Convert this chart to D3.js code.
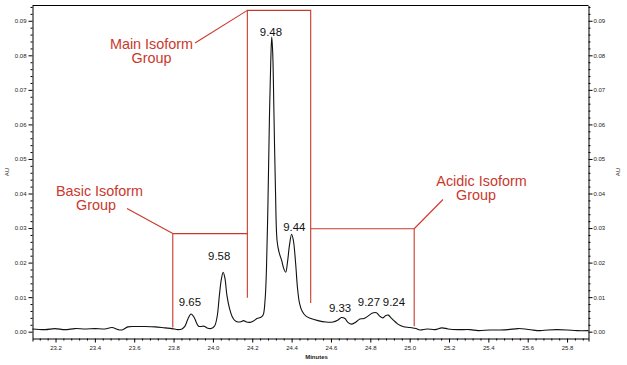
<!DOCTYPE html>
<html><head><meta charset="utf-8">
<script src="https://cdn.jsdelivr.net/npm/d3@7"></script>
<style>
body{margin:0;background:#fff}
svg{display:block}
text{font-family:"Liberation Sans",Arial,Helvetica,sans-serif}
</style>
</head><body>
<svg id="chart" width="627" height="365"></svg>
<script>
// ---- data (minutes, AU) ----
const time = [23.083,23.147,23.197,23.248,23.299,23.350,23.401,23.451,23.487,23.518,23.538,23.568,23.604,23.655,23.706,23.756,23.792,23.822,23.843,23.858,23.873,23.889,23.904,23.917,23.927,23.939,23.955,23.970,23.990,24.008,24.021,24.033,24.043,24.052,24.061,24.071,24.084,24.097,24.112,24.127,24.143,24.155,24.171,24.188,24.206,24.224,24.242,24.255,24.265,24.272,24.280,24.287,24.294,24.299,24.304,24.310,24.318,24.326,24.336,24.349,24.361,24.370,24.379,24.389,24.400,24.409,24.420,24.430,24.440,24.453,24.473,24.498,24.534,24.575,24.610,24.636,24.653,24.671,24.686,24.706,24.727,24.747,24.767,24.788,24.811,24.831,24.848,24.864,24.879,24.892,24.904,24.920,24.940,24.966,25.001,25.032,25.052,25.088,25.129,25.164,25.195,25.246,25.307,25.348,25.408,25.459,25.500,25.551,25.586,25.622,25.663,25.703,25.749,25.800,25.851,25.909];
const absorbance = [0.0008,0.0006,0.0009,0.0006,0.0009,0.0008,0.0009,0.0008,0.0012,0.0006,0.0005,0.0014,0.0015,0.0015,0.0014,0.0011,0.0009,0.0006,0.0008,0.0016,0.0037,0.0051,0.0042,0.0025,0.0016,0.0015,0.0016,0.0011,0.0009,0.0016,0.0042,0.0106,0.0152,0.0172,0.0155,0.0106,0.0068,0.0045,0.0032,0.0028,0.0029,0.0032,0.0028,0.0027,0.0031,0.0038,0.0041,0.0048,0.0091,0.0178,0.0380,0.0610,0.0783,0.0853,0.0807,0.0639,0.0409,0.0264,0.0230,0.0207,0.0181,0.0172,0.0201,0.0250,0.0282,0.0264,0.0201,0.0126,0.0083,0.0060,0.0045,0.0038,0.0032,0.0028,0.0028,0.0034,0.0041,0.0038,0.0027,0.0022,0.0028,0.0037,0.0038,0.0045,0.0054,0.0055,0.0045,0.0040,0.0047,0.0048,0.0041,0.0032,0.0022,0.0015,0.0012,0.0009,0.0005,0.0008,0.0006,0.0011,0.0008,0.0006,0.0006,0.0003,0.0005,0.0005,0.0006,0.0009,0.0008,0.0005,0.0003,0.0005,0.0006,0.0005,0.0003,0.0003];

const xTicks = [23.2,23.4,23.6,23.8,24.0,24.2,24.4,24.6,24.8,25.0,25.2,25.4,25.6,25.8];
const yTicks = [0.00,0.01,0.02,0.03,0.04,0.05,0.06,0.07,0.08,0.09];

// peak pI labels and their anchor (time, AU)
const peakLabels = ["9.65","9.58","9.48","9.44","9.33","9.27","9.24"];
const peakLabelTime = [23.883,24.032,24.295,24.414,24.646,24.793,24.920];
const peakLabelAU = [0.0074,0.0207,0.0856,0.0291,0.0058,0.0074,0.0074];

// isoform groups: bracket time boundaries
const groupNames = ["Basic Isoform","Main Isoform","Acidic Isoform"];
const groupStart = [23.796,24.175,24.497];
const groupEnd = [24.175,24.497,25.023];

// ---- drawing ----
const svg = d3.select("#chart");
const L = 32.5, R = 588.5, T = 5.5, B = 338.5;
const x = d3.scaleLinear().domain([23.083, 25.909]).range([L, R]);
const y = d3.scaleLinear().domain([-0.00197, 0.09442]).range([B, T]);

const red = "#c9392c";
const tickFont = 6;

// frame
svg.append("line").attr("x1",L).attr("x2",R).attr("y1",T).attr("y2",T).attr("stroke","#000");

// minor ticks
const xMinor = d3.range(23.12, 25.9, 0.04).filter(v => !xTicks.some(t => Math.abs(t - v) < 1e-6));
const yMinor = d3.range(0, 0.0941, 0.002).filter(v => !yTicks.some(t => Math.abs(t - v) < 1e-6));

function styleAxis(g){
  g.select(".domain").attr("stroke","#000");
  g.selectAll(".tick line").attr("stroke","#000");
  g.selectAll(".tick text").attr("font-size",tickFont).attr("fill","#222");
}

const xAxis = svg.append("g").attr("transform",`translate(0,${B})`)
  .call(d3.axisBottom(x).tickValues(xTicks).tickFormat(d3.format(".1f")).tickSize(4).tickPadding(3).tickSizeOuter(3));
styleAxis(xAxis);
svg.append("g").attr("transform",`translate(0,${B})`)
  .call(d3.axisBottom(x).tickValues(xMinor).tickFormat("").tickSize(2).tickSizeOuter(0))
  .call(g => { g.select(".domain").remove(); g.selectAll("line").attr("stroke","#000"); });

const yAxisL = svg.append("g").attr("transform",`translate(${L},0)`)
  .call(d3.axisLeft(y).tickValues(yTicks).tickFormat(d3.format(".2f")).tickSize(4).tickPadding(2).tickSizeOuter(0));
styleAxis(yAxisL);
svg.append("g").attr("transform",`translate(${L},0)`)
  .call(d3.axisLeft(y).tickValues(yMinor).tickFormat("").tickSize(2).tickSizeOuter(0))
  .call(g => { g.select(".domain").remove(); g.selectAll("line").attr("stroke","#000"); });

const yAxisR = svg.append("g").attr("transform",`translate(${R},0)`)
  .call(d3.axisRight(y).tickValues(yTicks).tickFormat(d3.format(".2f")).tickSize(4).tickPadding(1).tickSizeOuter(0));
styleAxis(yAxisR);
svg.append("g").attr("transform",`translate(${R},0)`)
  .call(d3.axisRight(y).tickValues(yMinor).tickFormat("").tickSize(2).tickSizeOuter(0))
  .call(g => { g.select(".domain").remove(); g.selectAll("line").attr("stroke","#000"); });

// axis titles
svg.append("text").attr("x",(L+R)/2 + 6).attr("y",359).attr("text-anchor","middle")
  .attr("font-size",6).attr("font-weight","bold").attr("fill","#222").text("Minutes");
svg.append("text").attr("transform",`translate(9,${(T+B)/2}) rotate(-90)`).attr("text-anchor","middle")
  .attr("font-size",6).attr("fill","#222").text("AU");
svg.append("text").attr("transform",`translate(620,${(T+B)/2}) rotate(-90)`).attr("text-anchor","middle")
  .attr("font-size",6).attr("fill","#222").text("AU");

// group brackets (red)
const ann = svg.append("g").attr("stroke",red).attr("stroke-width",1.1).attr("fill","none");
const basicTop = 0.0284, acidTop = 0.0298, mainTop = 0.0930;
ann.append("path").attr("d", d3.line()([
  [x(groupStart[0]), y(0.0012)], [x(groupStart[0]), y(basicTop)], [x(groupEnd[0]), y(basicTop)]
]));
ann.append("path").attr("d", d3.line()([
  [x(groupStart[1]), y(0.0098)], [x(groupStart[1]), y(mainTop)], [x(groupEnd[1]), y(mainTop)], [x(groupEnd[1]), y(0.0083)]
]));
ann.append("path").attr("d", d3.line()([
  [x(groupStart[2]), y(acidTop)], [x(groupEnd[2]), y(acidTop)], [x(groupEnd[2]), y(0.0016)]
]));
// leaders
ann.append("line").attr("x1",195).attr("y1",43).attr("x2",x(groupStart[1])).attr("y2",y(mainTop));
ann.append("line").attr("x1",127).attr("y1",208.5).attr("x2",x(groupStart[0])).attr("y2",y(basicTop));
ann.append("line").attr("x1",x(groupEnd[2])).attr("y1",y(acidTop)).attr("x2",443).attr("y2",199.5);

// group labels (two lines each, one text element)
const lab = svg.append("g").attr("fill",red).attr("font-size",14.4).attr("text-anchor","middle");
function twoLine(name, x1, y1, x2, y2){
  const t = lab.append("text");
  t.append("tspan").attr("x",x1).attr("y",y1).text(name);
  t.append("tspan").attr("x",x2).attr("y",y2).text("Group");
}
twoLine(groupNames[1], 151.5, 49, 151.5, 62.5);
twoLine(groupNames[0], 99.5, 196, 96, 210);
twoLine(groupNames[2], 481.5, 185.5, 476, 199.5);

// trace
const pts = time.map((t,i) => [t, absorbance[i]]);
svg.append("path").datum(pts)
  .attr("d", d3.line().x(d => x(d[0])).y(d => y(d[1])).curve(d3.curveCatmullRom.alpha(0.5)))
  .attr("fill","none").attr("stroke","#111").attr("stroke-width",1.1);

// peak labels
svg.append("g").attr("font-size",11.4).attr("text-anchor","middle").attr("fill","#111")
  .selectAll("text").data(peakLabels).join("text")
  .attr("x",(d,i) => x(peakLabelTime[i])).attr("y",(d,i) => y(peakLabelAU[i])).text(d => d);
</script>
</body></html>
